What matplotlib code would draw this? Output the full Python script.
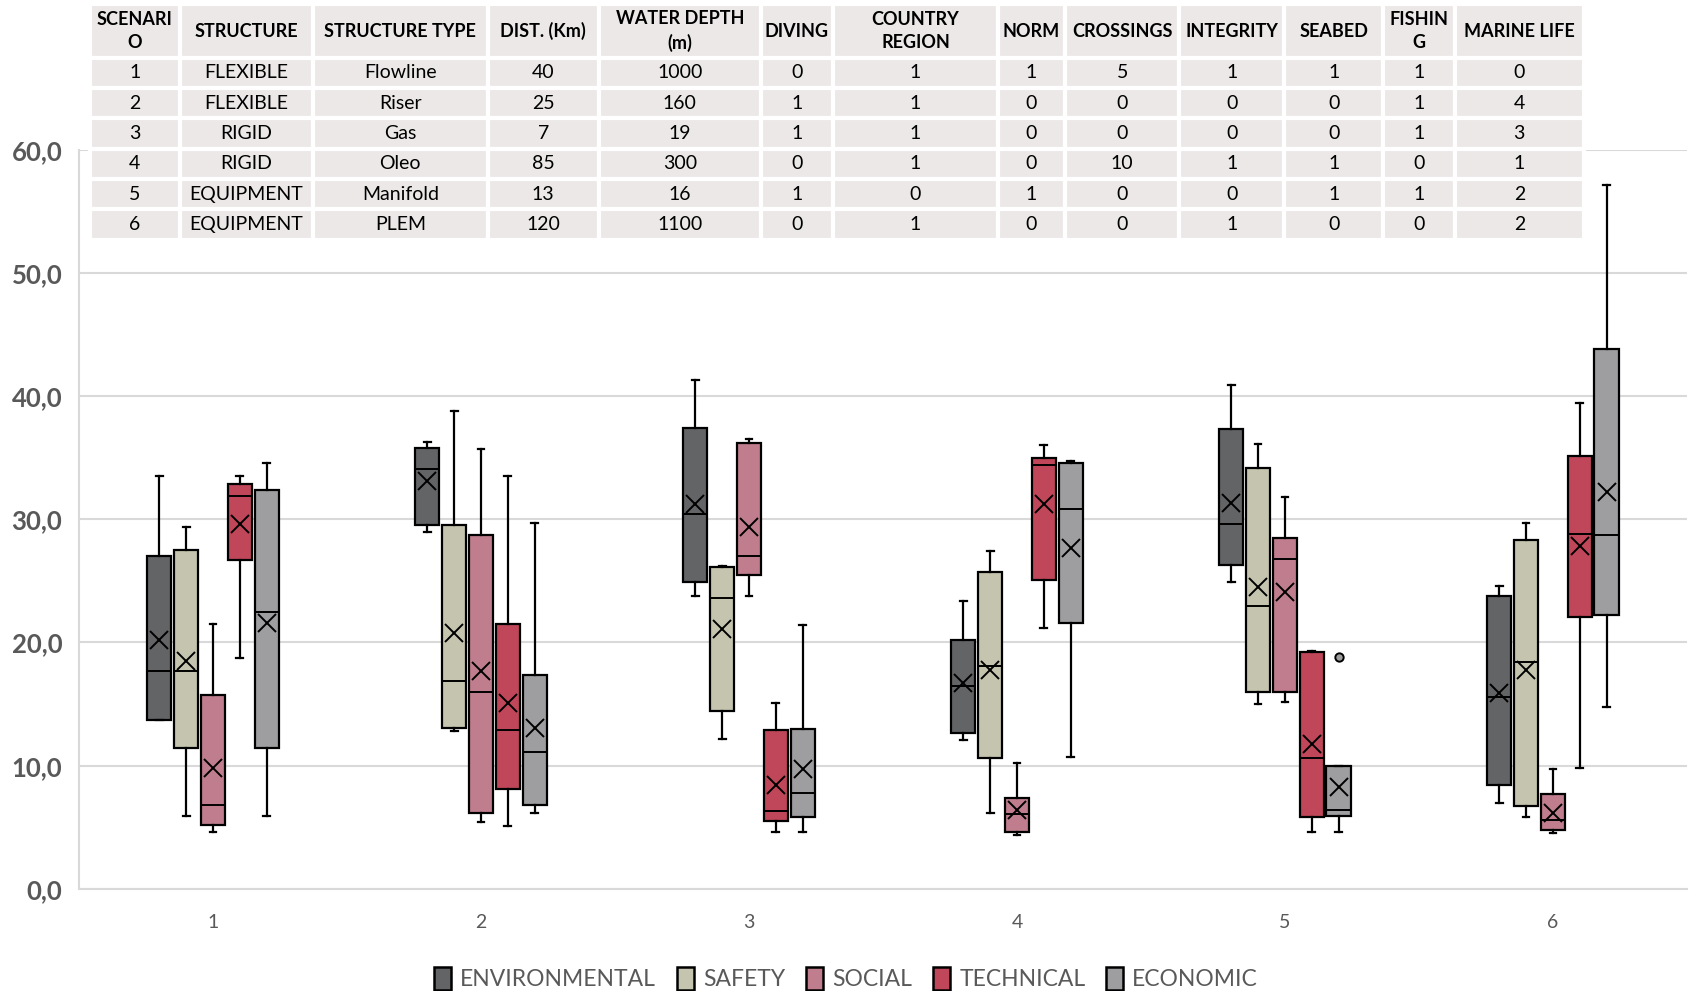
import matplotlib.pyplot as plt
from matplotlib.patches import Patch
from matplotlib.ticker import FuncFormatter

plt.rcParams['font.family'] = ['Lato', 'DejaVu Sans']

scenarios = ['1', '2', '3', '4', '5', '6']
series_names = ['ENVIRONMENTAL', 'SAFETY', 'SOCIAL', 'TECHNICAL', 'ECONOMIC']
colors = ['#636466', '#C5C5AF', '#BF7D8D', '#C0475A', '#9E9EA0']

# per scenario: (lower whisker, Q1, median, Q3, upper whisker, mean)
environmental = [(13.7, 13.7, 17.7, 27.05, 33.5, 20.2),
                 (29.0, 29.5, 34.1, 35.8, 36.3, 33.1),
                 (23.8, 24.9, 30.4, 37.4, 41.3, 31.2),
                 (12.1, 12.65, 16.5, 20.2, 23.4, 16.7),
                 (24.9, 26.3, 29.6, 37.3, 40.9, 31.3),
                 (7.0, 8.4, 15.6, 23.8, 24.6, 15.9)]
safety = [(5.95, 11.4, 17.7, 27.5, 29.35, 18.5),
          (12.8, 13.1, 16.9, 29.5, 38.8, 20.8),
          (12.2, 14.4, 23.6, 26.1, 26.2, 21.1),
          (6.2, 10.6, 18.1, 25.7, 27.4, 17.8),
          (15.0, 16.0, 23.0, 34.2, 36.1, 24.5),
          (5.8, 6.7, 18.4, 28.3, 29.7, 17.8)]
social = [(4.6, 5.15, 6.85, 15.7, 21.5, 9.8),
          (5.4, 6.2, 16.0, 28.7, 35.7, 17.7),
          (23.8, 25.5, 27.0, 36.2, 36.5, 29.4),
          (4.4, 4.6, 6.1, 7.4, 10.2, 6.4),
          (15.2, 16.0, 26.8, 28.5, 31.8, 24.1),
          (4.5, 4.8, 5.6, 7.7, 9.7, 6.2)]
technical = [(18.75, 26.7, 31.9, 32.9, 33.5, 29.65),
             (5.1, 8.1, 12.9, 21.5, 33.5, 15.1),
             (4.6, 5.5, 6.3, 12.9, 15.1, 8.4),
             (21.2, 25.1, 34.4, 35.0, 36.0, 31.2),
             (4.6, 5.8, 10.65, 19.2, 19.35, 11.8),
             (9.8, 22.1, 28.8, 35.1, 39.4, 27.8)]
economic = [(5.95, 11.4, 22.45, 32.4, 34.6, 21.6),
            (6.2, 6.85, 11.1, 17.4, 29.7, 13.1),
            (4.6, 5.8, 7.8, 13.0, 21.4, 9.7),
            (10.7, 21.6, 30.8, 34.6, 34.7, 27.7),
            (4.6, 5.9, 6.4, 10.0, 10.0, 8.3),
            (14.8, 22.2, 28.7, 43.8, 57.1, 32.2)]
all_series = [environmental, safety, social, technical, economic]
outliers = {(4, 4): [18.8]}  # (series index, scenario index)

# table above the chart
table_header = ['SCENARI\nO', 'STRUCTURE', 'STRUCTURE TYPE', 'DIST. (Km)', 'WATER DEPTH\n(m)',
                'DIVING', 'COUNTRY\nREGION', 'NORM', 'CROSSINGS', 'INTEGRITY', 'SEABED',
                'FISHIN\nG', 'MARINE LIFE']
structure = ['FLEXIBLE', 'FLEXIBLE', 'RIGID', 'RIGID', 'EQUIPMENT', 'EQUIPMENT']
structure_type = ['Flowline', 'Riser', 'Gas', 'Oleo', 'Manifold', 'PLEM']
dist_km = [40, 25, 7, 85, 13, 120]
water_depth = [1000, 160, 19, 300, 16, 1100]
diving = [0, 1, 1, 0, 1, 0]
country_region = [1, 1, 1, 1, 0, 1]
norm = [1, 0, 0, 0, 1, 0]
crossings = [5, 0, 0, 10, 0, 0]
integrity = [1, 0, 0, 1, 0, 1]
seabed = [1, 0, 0, 1, 1, 0]
fishing = [1, 1, 1, 0, 1, 0]
marine_life = [0, 4, 3, 1, 2, 2]

fig = plt.figure(figsize=(16.92, 9.91), dpi=100)
ax = fig.add_axes([0.0467, 0.103, 0.9503, 0.746])

box_w = 0.09
for k, series in enumerate(all_series):
    stats = []
    positions = []
    for i, (lo, q1, med, q3, hi, mean) in enumerate(series):
        stats.append(dict(whislo=lo, q1=q1, med=med, q3=q3, whishi=hi, mean=mean,
                          fliers=outliers.get((k, i), [])))
        positions.append(i + 1 + (k - 2) * 0.1)
    ax.bxp(stats, positions=positions, widths=box_w, capwidths=0.025,
           patch_artist=True, showmeans=True, manage_ticks=False,
           boxprops=dict(facecolor=colors[k], edgecolor='black', linewidth=1.6),
           medianprops=dict(color='black', linewidth=1.4),
           whiskerprops=dict(color='black', linewidth=1.6),
           capprops=dict(color='black', linewidth=1.6),
           meanprops=dict(marker='x', markersize=13, markeredgecolor='black',
                          markeredgewidth=1.4),
           flierprops=dict(marker='o', markersize=6, markerfacecolor=colors[k],
                           markeredgecolor='black', markeredgewidth=1.4),
           zorder=3)

ax.set_xlim(0.5, 6.5)
ax.set_ylim(0, 60)
ax.set_yticks(range(0, 61, 10))
ax.yaxis.set_major_formatter(FuncFormatter(lambda v, p: f'{v:.1f}'.replace('.', ',')))
ax.set_xticks(range(1, 7))
ax.set_xticklabels(scenarios)
ax.grid(axis='y', color='#D9D9D9', linewidth=1.5, zorder=0)
ax.set_axisbelow(True)
for s in ['top', 'right']:
    ax.spines[s].set_visible(False)
for s in ['left', 'bottom']:
    ax.spines[s].set_color('#D9D9D9')
    ax.spines[s].set_linewidth(1.5)
ax.tick_params(axis='y', length=0, pad=12, labelsize=18.5, labelcolor='#595959')
for t in ax.get_yticklabels():
    t.set_fontweight('bold')
ax.tick_params(axis='x', length=0, pad=18, labelsize=14, labelcolor='#595959')

handles = [Patch(facecolor=c, edgecolor='black', linewidth=1.8) for c in colors]
leg = fig.legend(handles, series_names, loc='lower center', ncol=5, frameon=False,
                 bbox_to_anchor=(0.5, -0.02), fontsize=16.5, handlelength=0.75,
                 handleheight=1.15, handletextpad=0.4, columnspacing=0.9)
for t in leg.get_texts():
    t.set_color('#595959')

# table
rows = []
for i in range(6):
    rows.append([scenarios[i], structure[i], structure_type[i], dist_km[i], water_depth[i],
                 diving[i], country_region[i], norm[i], crossings[i], integrity[i],
                 seabed[i], fishing[i], marine_life[i]])
col_w = [84, 123, 162, 103, 150, 67, 153, 62, 106, 97, 92, 66, 120]
tot = sum(col_w)
tax = fig.add_axes([0.0529, 0.758, 0.8833, 0.2375])
tax.axis('off')
tab = tax.table(cellText=[[str(v) for v in r] for r in rows], colLabels=table_header,
                colWidths=[w / tot for w in col_w], cellLoc='center', bbox=[0, 0, 1, 1])
tab.auto_set_font_size(False)
for (r, c), cell in tab.get_celld().items():
    cell.set_facecolor('#EBE8E7')
    cell.set_edgecolor('white')
    cell.set_linewidth(3)
    cell.set_height(49 if r == 0 else 28)
    if r == 0:
        cell.get_text().set_fontsize(13)
        cell.get_text().set_fontweight('bold')
        cell.get_text().set_linespacing(1.45)
    else:
        cell.get_text().set_fontsize(14)

fig.savefig('out.png', dpi=100)
